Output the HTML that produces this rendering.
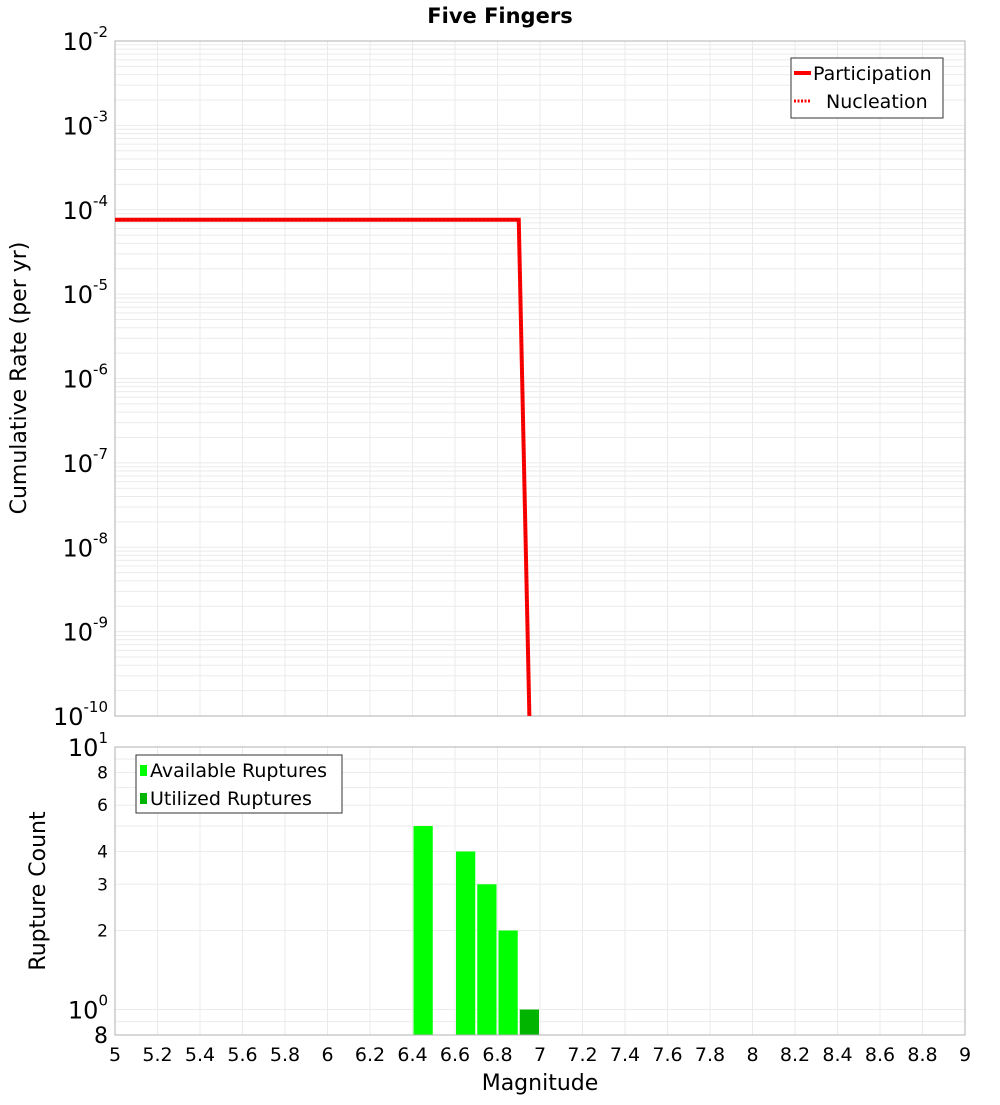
<!DOCTYPE html>
<html><head><meta charset="utf-8"><style>
body{margin:0;background:#fff;}
svg text{font-family:"DejaVu Sans","Liberation Sans",sans-serif;}
</style></head><body>
<svg id="chart" width="1000" height="1100" xmlns="http://www.w3.org/2000/svg"></svg>
<script>
const xTicks=[5,5.2,5.4,5.6,5.8,6,6.2,6.4,6.6,6.8,7,7.2,7.4,7.6,7.8,8,8.2,8.4,8.6,8.8,9];
const rateMags=[5,6.9,6.95];
const participationRates=[7.6e-5,7.6e-5,1e-10];
const nucleationRates=[7.6e-5,7.6e-5,1e-10];
const topExps=[-2,-3,-4,-5,-6,-7,-8,-9,-10];
const barMags=[6.45,6.65,6.75,6.85];
const availableCounts=[5,4,3,2];
const utilizedMags=[6.95];
const utilizedCounts=[1];
const bottomTickVals=[8,6,4,3,2];

const svg=document.getElementById('chart');
const NS='http://www.w3.org/2000/svg';
function mk(tag,attrs,parent){const e=document.createElementNS(NS,tag);for(const k in attrs)e.setAttribute(k,attrs[k]);(parent||svg).appendChild(e);return e;}
const X0=115,X1=965;
const xs=v=>X0+(v-5)/(9-5)*(X1-X0);
const T0=41,T1=716;
const ys=v=>T0+(-2-Math.log10(v))/8*(T1-T0);
const B0=747,B1=1035;
const yb=v=>B0+(1-Math.log10(v))/(1-Math.log10(0.8))*(B1-B0);

// title
let t=mk('text',{x:500,y:23,'text-anchor':'middle','font-size':21,'font-weight':'bold'});t.textContent='Five Fingers';


// top grid
const gTop=mk('g',{});
for(let e=-10;e<-2;e++)for(let m=1;m<10;m++){const y=ys(m*Math.pow(10,e));mk('line',{x1:X0,x2:X1,y1:y,y2:y,stroke:'#ebebeb','stroke-width':1},gTop);}
xTicks.forEach(v=>mk('line',{x1:xs(v),x2:xs(v),y1:T0,y2:T1,stroke:'#ebebeb'},gTop));
let r=mk('rect',{x:X0,y:T0,width:X1-X0,height:T1-T0,fill:'none',stroke:'#b0b0b0'});

// top y labels
topExps.forEach(e=>{const y=ys(Math.pow(10,e));const tx=mk('text',{x:108,y:y+9,'text-anchor':'end','font-size':24});

tx.textContent='10';const s=mk('tspan',{dy:-13,'font-size':15},tx);s.textContent=String(e);});
t=mk('text',{transform:'translate(26,378) rotate(-90)','text-anchor':'middle','font-size':22});t.textContent='Cumulative Rate (per yr)';


// lines
const clip=mk('clipPath',{id:'ct'});mk('rect',{x:X0,y:T0,width:X1-X0,height:T1-T0},clip);
let pts=rateMags.map((m,i)=>xs(m)+','+ys(participationRates[i])).join(' ');
let l=mk('polyline',{points:pts,fill:'none',stroke:'#ff0000','stroke-width':4,'clip-path':'url(#ct)'});

pts=rateMags.map((m,i)=>xs(m)+','+ys(nucleationRates[i])).join(' ');
l=mk('polyline',{points:pts,fill:'none',stroke:'#e00000','stroke-width':2,'stroke-dasharray':'2,2','clip-path':'url(#ct)'});


// top legend
const lg=mk('g',{});
mk('rect',{x:791,y:58,width:152,height:60,fill:'#fff',stroke:'#333'},lg);
mk('line',{x1:794,x2:811,y1:73,y2:73,stroke:'#f00','stroke-width':4},lg);
mk('line',{x1:794,x2:811,y1:101,y2:101,stroke:'#f00','stroke-width':3,'stroke-dasharray':'2,1.5'},lg);
t=mk('text',{x:813,y:80,'font-size':19},lg);t.textContent='Participation';
t=mk('text',{x:826,y:108,'font-size':19},lg);t.textContent='Nucleation';

// bottom grid
const gB=mk('g',{});
[0.8,0.9,1,2,3,4,5,6,7,8,9].forEach(v=>{const y=yb(v);mk('line',{x1:X0,x2:X1,y1:y,y2:y,stroke:'#ebebeb'},gB);});
xTicks.forEach(v=>mk('line',{x1:xs(v),x2:xs(v),y1:B0,y2:B1,stroke:'#ebebeb'},gB));
// bars
const w=xs(0.1)-xs(0);
barMags.forEach((m,i)=>{const b=mk('rect',{x:xs(m)-w/2+1,y:yb(availableCounts[i]),width:w-2,height:B1-yb(availableCounts[i]),fill:'#00ff00'});
});
utilizedMags.forEach((m,i)=>{const b=mk('rect',{x:xs(m)-w/2+1,y:yb(utilizedCounts[i]),width:w-2,height:B1-yb(utilizedCounts[i]),fill:'#00b400'});
});
r=mk('rect',{x:X0,y:B0,width:X1-X0,height:B1-B0,fill:'none',stroke:'#b0b0b0'});

// bottom y labels
[[10,'1'],[1,'0']].forEach(([v,e])=>{const tx=mk('text',{x:108,y:yb(v)+9,'text-anchor':'end','font-size':24});

tx.textContent='10';const s=mk('tspan',{dy:-13,'font-size':15},tx);s.textContent=e;});
bottomTickVals.forEach(v=>{const tx=mk('text',{x:108,y:yb(v)+6,'text-anchor':'end','font-size':17});tx.textContent=String(v);
});
t=mk('text',{x:108,y:1043,'text-anchor':'end','font-size':22});t.textContent='8';

t=mk('text',{transform:'translate(45,891) rotate(-90)','text-anchor':'middle','font-size':22});t.textContent='Rupture Count';

// x ticks
xTicks.forEach(v=>{const tx=mk('text',{x:xs(v),y:1061,'text-anchor':'middle','font-size':19});tx.textContent=String(v);
});
t=mk('text',{x:540,y:1090,'text-anchor':'middle','font-size':22});t.textContent='Magnitude';

// bottom legend
const lb=mk('g',{});
mk('rect',{x:136,y:755,width:206,height:58,fill:'#fff',stroke:'#333'},lb);
mk('rect',{x:140,y:765,width:7,height:11,fill:'#00ff00'},lb);
mk('rect',{x:140,y:793,width:7,height:11,fill:'#00b400'},lb);
t=mk('text',{x:150,y:777,'font-size':19},lb);t.textContent='Available Ruptures';
t=mk('text',{x:150,y:805,'font-size':19},lb);t.textContent='Utilized Ruptures';
</script>
</body></html>
